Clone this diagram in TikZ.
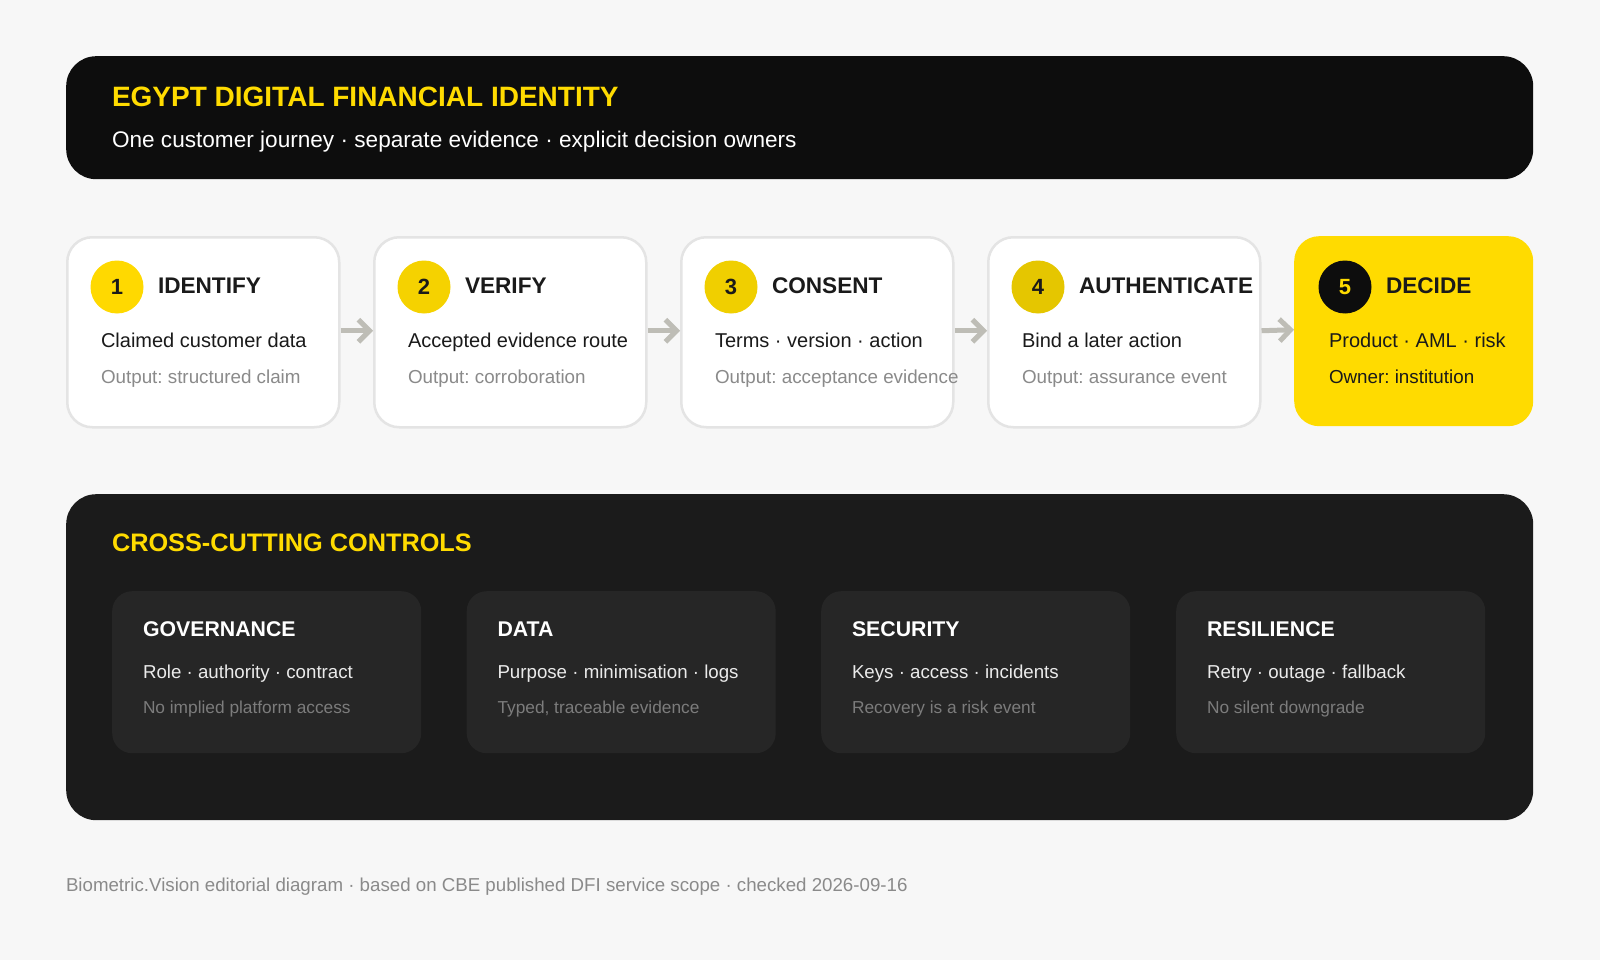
\documentclass[tikz,border=0pt]{standalone}
\usepackage{fontspec}
\setmainfont{Liberation Sans}
\frenchspacing
\usetikzlibrary{arrows.meta}
\definecolor{bg}{HTML}{F7F7F7}
\definecolor{hdr}{HTML}{0D0D0D}
\definecolor{panel}{HTML}{1B1B1B}
\definecolor{cardc}{HTML}{262626}
\definecolor{ylw}{HTML}{FFDB00}
\definecolor{cA}{HTML}{FFD900}
\definecolor{cB}{HTML}{F5D200}
\definecolor{cC}{HTML}{F0CF00}
\definecolor{cD}{HTML}{E5C600}
\definecolor{boxline}{HTML}{E4E4E4}
\definecolor{arrc}{HTML}{BEBDB6}
\definecolor{txt}{HTML}{1A1A1A}
\definecolor{muted}{HTML}{8A8A8A}
\definecolor{cardmuted}{HTML}{7C7C7C}
\definecolor{foot}{HTML}{8A8A8A}
\newcommand\fsz[1]{\fontsize{#1}{#1}\selectfont}
\tikzset{
  lbl/.style={anchor=base west, inner sep=0pt, outer sep=0pt},
  stepbox/.style={draw=boxline, line width=2.5pt, fill=white, rounded corners=25pt,
    minimum width=272pt, minimum height=190pt, anchor=north west, inner sep=0pt},
  lastbox/.style={fill=ylw, rounded corners=25pt,
    minimum width=239pt, minimum height=190pt, anchor=north west, inner sep=0pt},
  numcirc/.style={circle, minimum size=53pt, inner sep=0pt, font=\fsz{22}\bfseries, text=txt},
  steptitle/.style={lbl, font=\fsz{22.6}\bfseries, text=txt},
  stepline/.style={lbl, font=\fsz{20}, text=txt},
  stepout/.style={lbl, font=\fsz{18.8}, text=muted},
  cardbox/.style={fill=cardc, rounded corners=20pt, minimum width=309pt, minimum height=162pt,
    anchor=north west, inner sep=0pt},
  cardtitle/.style={lbl, font=\fsz{21.3}\bfseries, text=white},
  cardline/.style={lbl, font=\fsz{18.7}, text=white!92!black},
  cardout/.style={lbl, font=\fsz{17.3}, text=cardmuted},
  flow/.style={draw=arrc, line width=5pt, -{Straight Barb[length=11pt,width=22pt]}},
}
\newcommand\mystep[7]{%
  \node[stepbox] (#1) at (#2,236) {};
  \node[numcirc, fill=#3] (#1n) at (#2+51,287) {#4};
  \node[steptitle] (#1t) at (#2+92,293.5) {#5};
  \node[stepline] (#1a) at (#2+35,347) {#6};
  \node[stepout] (#1b) at (#2+35,383) {#7};
}
\newcommand\mycard[5]{%
  \node[cardbox] (#1) at (#2,591) {};
  \node[cardtitle] (#1t) at (#2+31,636) {#3};
  \node[cardline] (#1a) at (#2+31,678) {#4};
  \node[cardout] (#1b) at (#2+31,713) {#5};
}
\begin{document}
\begin{tikzpicture}[x=1pt,y=-1pt]
\path[use as bounding box, fill=bg] (0,0) rectangle (1600,960);
% header
\node[fill=hdr, rounded corners=30pt, minimum width=1467pt, minimum height=123pt,
  anchor=north west, inner sep=0pt] (hdr) at (66,56) {};
\node[lbl, font=\fsz{28}\bfseries, text=ylw] (title) at (112,106.5) {EGYPT DIGITAL FINANCIAL IDENTITY};
\node[lbl, font=\fsz{22.6}, text=white] (sub) at (112,148) {One customer journey · separate evidence · explicit decision owners};
% steps
\mystep{s1}{66}{cA}{1}{IDENTIFY}{Claimed customer data}{Output: structured claim}
\mystep{s2}{373}{cB}{2}{VERIFY}{Accepted evidence route}{Output: corroboration}
\mystep{s3}{680}{cC}{3}{CONSENT}{Terms · version · action}{Output: acceptance evidence}
\mystep{s4}{987}{cD}{4}{AUTHENTICATE}{Bind a later action}{Output: assurance event}
\node[lastbox] (s5) at (1294,236) {};
\node[numcirc, fill=hdr, text=ylw] (s5n) at (1294+51,287) {5};
\node[steptitle] (s5t) at (1294+92,293.5) {DECIDE};
\node[stepline] (s5a) at (1294+35,347) {Product · AML · risk};
\node[stepline, font=\fsz{18.8}] (s5b) at (1294+35,383) {Owner: institution};
\coordinate (up) at (0,-1.5);
\draw[flow] ([shift={(up)}]s1.east) -- ([shift={(up)}]s2.west);
\draw[flow] ([shift={(up)}]s2.east) -- ([shift={(up)}]s3.west);
\draw[flow] ([shift={(up)}]s3.east) -- ([shift={(up)}]s4.west);
\draw[flow] ([shift={(up)}]s4.east) -- ([shift={(up)}]s5.west);
% controls
\node[fill=panel, rounded corners=30pt, minimum width=1467pt, minimum height=326pt,
  anchor=north west, inner sep=0pt] (ctl) at (66,494) {};
\node[lbl, font=\fsz{25.3}\bfseries, text=ylw] (ctlt) at (112,551) {CROSS-CUTTING CONTROLS};
\mycard{k1}{112}{GOVERNANCE}{Role · authority · contract}{No implied platform access}
\mycard{k2}{466.5}{DATA}{Purpose · minimisation · logs}{Typed, traceable evidence}
\mycard{k3}{821}{SECURITY}{Keys · access · incidents}{Recovery is a risk event}
\mycard{k4}{1176}{RESILIENCE}{Retry · outage · fallback}{No silent downgrade}
% footer
\node[lbl, font=\fsz{18.7}, text=foot] (foot) at (66,891) {Biometric.Vision editorial diagram · based on CBE published DFI service scope · checked 2026-09-16};
\end{tikzpicture}
\end{document}
